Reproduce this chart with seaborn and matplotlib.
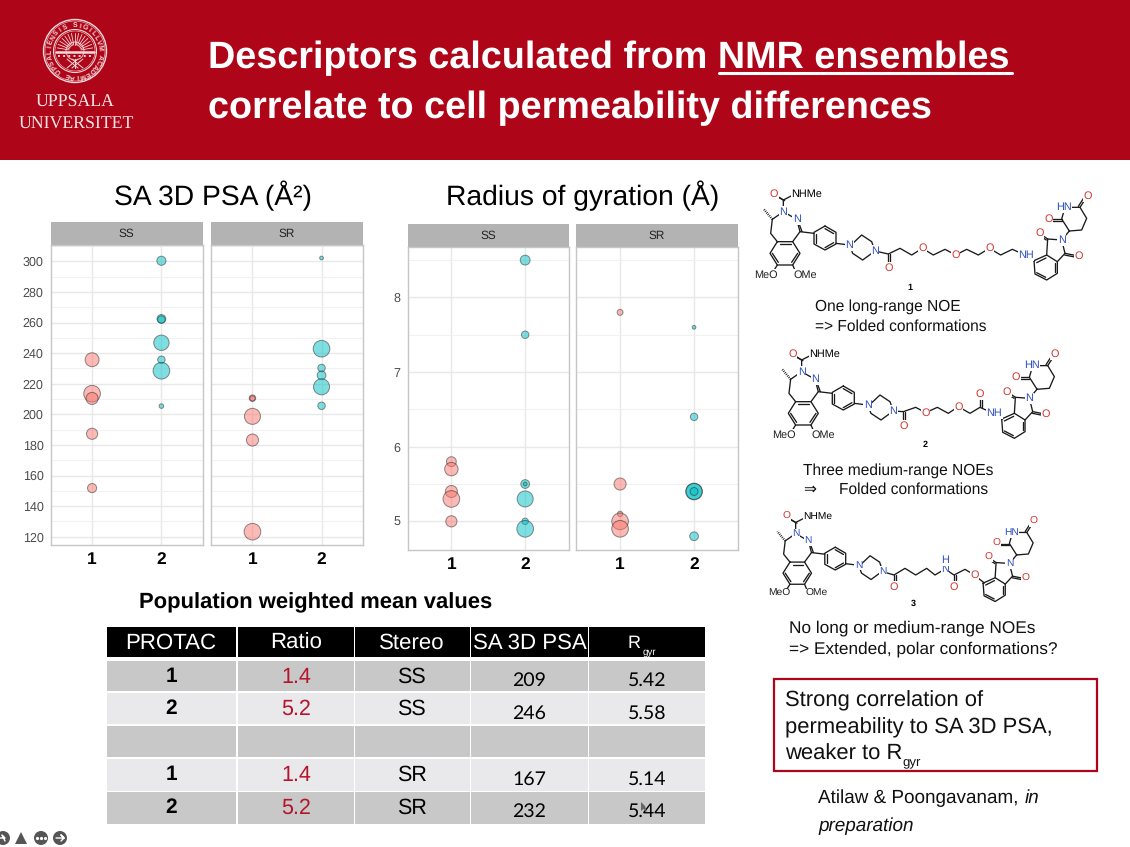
import numpy as np
import pandas as pd
import matplotlib
matplotlib.use('Agg')
import matplotlib.pyplot as plt
from matplotlib.patches import Rectangle, Circle, Polygon
from matplotlib.ticker import MultipleLocator
import seaborn as sns

# Bubble data: protac, stereo, value, population (%)
psa_protac = [1, 1, 1, 1, 1, 2, 2, 2, 2, 2, 2, 2,
              1, 1, 1, 1, 1, 2, 2, 2, 2, 2, 2]
psa_stereo = ['SS'] * 12 + ['SR'] * 11
psa_value = [235.7, 213.5, 210.4, 187.3, 151.8, 300.4, 262.4, 262.0, 246.8, 235.7, 228.5, 205.4,
             210.6, 210.4, 198.7, 183.2, 123.3, 302.2, 242.9, 230.3, 225.5, 218.0, 205.6]
psa_pop = [28, 40, 21, 18, 12, 12, 11, 8, 34, 8, 40, 3,
           6, 4, 37, 21, 40, 2, 47, 8, 11, 37, 8]

rg_protac = [1, 1, 1, 1, 1, 2, 2, 2, 2, 2, 2, 2,
             1, 1, 1, 1, 1, 2, 2, 2, 2, 2, 2]
rg_stereo = ['SS'] * 12 + ['SR'] * 11
rg_value = [5.8, 5.7, 5.4, 5.3, 5.0, 8.5, 7.5, 5.5, 5.5, 5.3, 5.0, 4.9,
            7.8, 5.5, 5.1, 5.0, 4.9, 7.6, 6.4, 5.4, 5.4, 5.4, 4.8]
rg_pop = [14, 26, 21, 40, 18, 14, 8, 11, 2, 37, 6, 43,
          5, 21, 4, 40, 40, 2, 8, 47, 37, 9, 11]

# Table
table_head = ['PROTAC', 'Ratio', 'Stereo', 'SA 3D PSA', 'R']
t_protac = ['1', '2', '', '1', '2']
t_ratio = ['1.4', '5.2', '', '1.4', '5.2']
t_stereo = ['SS', 'SS', '', 'SR', 'SR']
t_psa = ['209', '246', '', '167', '232']
t_rgyr = ['5.42', '5.58', '', '5.14', '5.44']

RED = '#ae0618'
W, H = 1130, 847

sns.set_theme(style='white')
plt.rcParams['font.family'] = ['Liberation Sans', 'DejaVu Sans']
plt.rcParams['text.hinting'] = 'no_hinting'

fig = plt.figure(figsize=(W / 100, H / 100), dpi=100, facecolor='white')
bg = fig.add_axes([0, 0, 1, 1])
bg.set_xlim(0, W)
bg.set_ylim(H, 0)
bg.axis('off')


def panel(x0, x1, y0, y1):
    return fig.add_axes([x0 / W, 1 - y1 / H, (x1 - x0) / W, (y1 - y0) / H])


# ---- header band
bg.add_patch(Rectangle((0, 0), W, 160, color=RED, lw=0))
bg.text(208, 68, 'Descriptors calculated from NMR ensembles', color='white', weight='bold', size=27.2, va='baseline')
bg.text(208, 118, 'correlate to cell permeability differences', color='white', weight='bold', size=27.2, va='baseline')
bg.plot([719, 1012], [73, 73], color='white', lw=2.2)

# logo
cx, cy = 75, 51
SEAL = '#f4d8da'
for r, lw in [(31.5, 1.0), (30, 0.4), (21.5, 0.8), (20, 0.4), (9, 0.6)]:
    bg.add_patch(Circle((cx, cy), r, fc='none', ec=SEAL, lw=lw))
ring = 'SIGILLVM ACADEMIAE UPSALIENSIS '
for i, ch in enumerate(ring):
    a = 2 * np.pi * i / len(ring)
    bg.text(cx + 25.5 * np.sin(a), cy - 25.5 * np.cos(a), ch, color=SEAL, size=5, weight='bold', ha='center',
            va='center', rotation=-np.degrees(a), rotation_mode='anchor')
bg.plot([cx - 19, cx + 19], [cy + 1, cy + 1], color=SEAL, lw=1.8)
bg.plot([cx - 17, cx + 17], [cy + 5, cy + 5], color=SEAL, lw=1.4, ls=':')
for a in np.linspace(-80, 80, 15):
    t = np.radians(a)
    bg.plot([cx + 6 * np.sin(t), cx + 18 * np.sin(t)], [cy - 6 * np.cos(t), cy - 18 * np.cos(t)], color=SEAL, lw=0.6)
for a in [-1, 0, 1]:
    bg.plot([cx + a * 3, cx - a * 8], [cy + 8, cy + 17], color=SEAL, lw=0.7)
    bg.plot([cx + a * 8, cx - a * 3], [cy + 8, cy + 17], color=SEAL, lw=0.7)
bg.text(75, 107, 'UPPSALA', color='#f7e6e6', family='Liberation Serif', size=12.8, ha='center', va='baseline')
bg.text(76, 129, 'UNIVERSITET', color='#f7e6e6', family='Liberation Serif', size=12.8, ha='center', va='baseline')

# ---- bubble panels
psa_df = pd.DataFrame({'protac': psa_protac, 'stereo': psa_stereo, 'value': psa_value, 'pop': psa_pop})
rg_df = pd.DataFrame({'protac': rg_protac, 'stereo': rg_stereo, 'value': rg_value, 'pop': rg_pop})
colors = {1: '#F8766D', 2: '#00BFC4'}


def facet(df, stereo, box, strip, ylim, xlim, major, minor, show_y):
    x0, x1, y0, y1 = box
    ax = panel(x0, x1, y0, y1)
    sns.scatterplot(data=df[df['stereo'] == stereo], x='protac', y='value', hue='protac', palette=colors,
                    size='pop', sizes=(0, 144), size_norm=(0, 40), alpha=0.5, edgecolor='#222222', linewidth=0.7,
                    legend=False, ax=ax, clip_on=False, zorder=3)
    ax.set_xlim(*xlim)
    ax.set_ylim(*ylim)
    ax.set_xticks([1, 2])
    ax.set_xticklabels(['1', '2'], fontsize=12.5, fontweight='bold', color='black')
    ax.yaxis.set_major_locator(MultipleLocator(major))
    ax.yaxis.set_minor_locator(MultipleLocator(minor))
    ax.grid(True, which='major', color='#e8e8e8', lw=1.0)
    ax.grid(True, which='minor', axis='y', color='#f1f1f1', lw=0.8)
    ax.set_axisbelow(True)
    ax.set_xlabel('')
    ax.set_ylabel('')
    ax.tick_params(axis='x', length=0, pad=5)
    ax.tick_params(axis='y', which='both', length=0, labelsize=9, labelcolor='#4d4d4d', pad=5, labelleft=show_y)
    for s in ax.spines.values():
        s.set_color('#c6c6c6')
        s.set_linewidth(1.0)
    bg.add_patch(Rectangle((x0, strip), x1 - x0, y0 - strip, color='#b3b3b3', lw=0))
    bg.text((x0 + x1) / 2, (strip + y0) / 2 + 0.5, stereo, size=8.5, color='#222222', ha='center', va='center')
    return ax


facet(psa_df, 'SS', (50.5, 203, 245, 545), 222, (114.6, 310.7), (0.4, 2.6), 20, 10, True)
facet(psa_df, 'SR', (211, 363, 245, 545), 222, (114.6, 310.7), (0.4, 2.6), 20, 10, False)
facet(rg_df, 'SS', (407.7, 568.7, 246.7, 550), 224.3, (4.616, 8.68), (0.408, 2.59), 1, 0.5, True)
facet(rg_df, 'SR', (576.3, 737.7, 246.7, 550), 224.3, (4.616, 8.68), (0.408, 2.59), 1, 0.5, False)

bg.text(213, 205, 'SA 3D PSA (Å²)', size=20.3, color='black', ha='center', va='baseline')
bg.text(583, 205, 'Radius of gyration (Å)', size=20.3, color='black', ha='center', va='baseline')

# ---- table
bg.text(139, 608, 'Population weighted mean values', weight='bold', size=15.8, color='black', va='baseline')
col_edges = [(107, 236.3), (237.5, 353.7), (354.9, 470.2), (471.4, 587.6), (588.8, 705)]
col_mid = [171, 296, 411.5, 529.5, 634]
row_edges = [(661.3, 691), (692.7, 724.3), (726, 757), (758.7, 790.7), (792.3, 823.7)]
row_mid = [677, 709, 741, 775, 808]
num_mid = [680, 713, 745, 779, 811]
for (a, b), mid, head in zip(col_edges, col_mid, table_head):
    bg.add_patch(Rectangle((a, 627), b - a, 30, color='black', lw=0))
    bg.text(mid, 643, head, color='white', size=16 if head != 'R' else 13, ha='center', va='center')
bg.text(649, 652, 'gyr', color='white', size=7, ha='center', va='center')
for i, (a, b) in enumerate(row_edges):
    for c0, c1 in col_edges:
        bg.add_patch(Rectangle((c0, a), c1 - c0, b - a, color='#c8c8c9' if i % 2 == 0 else '#e9e8ea', lw=0))
    bg.text(col_mid[0], row_mid[i], t_protac[i], weight='bold', size=15, color='black', ha='center', va='center')
    bg.text(col_mid[1], row_mid[i], t_ratio[i], size=15.5, color='#b5152b', ha='center', va='center')
    bg.text(col_mid[2], row_mid[i], t_stereo[i], size=15.5, color='black', ha='center', va='center')
    bg.text(col_mid[3], num_mid[i], t_psa[i], size=14, family='Lato', color='black', ha='center', va='center')
    bg.text(647, num_mid[i], t_rgyr[i], size=14, family='Lato', color='black', ha='center', va='center')
# mouse pointer left on the slide
bg.add_patch(Polygon([(641, 802), (641, 811), (643.5, 809), (647, 812), (645, 806)], color='#666666', lw=0, zorder=5))

# ---- molecules (coordinates in 3x zoom units of the slide)
O_RED, N_BLUE = '#cf3a32', '#3050c0'
head_lines = [
    [(128, 215), (150, 185), (140, 148), (100, 125), (67, 148), (62, 190), (82, 215)],
    [(82, 215), (128, 215), (150, 250), (128, 285), (82, 285), (60, 250), (82, 215)],
    [(100, 125), (100, 90), (135, 72)], [(100, 90), (72, 72)], [(104, 92), (76, 77)], [(156, 185), (144, 152)],
    [(82, 285), (65, 312)], [(128, 285), (140, 312)], [(143, 250), (125, 277)], [(67, 250), (85, 277)],
    [(90, 223), (122, 223)],
    [(150, 185), (192, 190)],
    [(225, 168), (258, 187), (258, 222), (225, 240), (192, 222), (192, 187), (225, 168)],
    [(225, 176), (251, 191)], [(251, 218), (225, 233)], [(198, 218), (198, 191)],
    [(258, 220), (298, 225)],
    [(300, 228), (335, 195), (365, 215), (375, 243), (338, 270), (308, 250), (300, 228)],
]
head_labels = [('O', 72, 72, O_RED), ('NHMe', 170, 72, 'black'), ('N', 100, 125, N_BLUE), ('N', 140, 148, N_BLUE),
               ('N', 298, 225, N_BLUE), ('N', 375, 243, N_BLUE), ('MeO', 48, 315, '#222222'), ('OMe', 165, 315, '#222222')]
tail_lines = [
    [(852, 272), (890, 255), (922, 275), (922, 310), (890, 330), (855, 312), (852, 272)],
    [(860, 278), (888, 264)], [(915, 280), (915, 305)], [(887, 322), (860, 308)],
    [(890, 255), (893, 207), (935, 210), (945, 250), (922, 275)],
    [(893, 207), (868, 190)], [(889, 210), (864, 194)], [(945, 250), (985, 258)], [(944, 255), (984, 263)],
    [(935, 210), (958, 183)],
    [(958, 183), (995, 180), (1010, 145), (990, 112), (945, 112), (935, 147), (958, 183)],
    [(990, 112), (1012, 78)], [(985, 109), (1007, 75)], [(935, 147), (895, 147)], [(935, 152), (895, 152)],
]
tail_labels = [('O', 868, 190, O_RED), ('N', 935, 210, N_BLUE), ('O', 985, 258, O_RED), ('HN', 942, 112, N_BLUE),
               ('O', 1012, 78, O_RED), ('O', 895, 147, O_RED)]
chain1 = [(375, 243), (415, 252), (450, 235), (485, 255), (517, 235), (550, 255), (585, 238), (617, 255),
          (650, 238), (685, 255), (718, 235), (752, 255), (787, 238), (825, 255), (852, 272)]
chain1_lab = [('O', 415, 293, O_RED), ('O', 517, 235, O_RED), ('O', 617, 255, O_RED), ('O', 718, 235, O_RED),
              ('NH', 828, 255, N_BLUE)]
chain1_co = [(415, 252, 415, 293)]
chain2 = [(430, 723), (460, 725), (497, 712), (527, 728), (562, 712), (595, 730), (625, 710), (660, 730),
          (690, 712), (730, 730), (758, 747)]
chain2_lab = [('O', 460, 767, O_RED), ('O', 527, 728, O_RED), ('O', 625, 710, O_RED), ('O', 690, 672, O_RED),
              ('NH', 733, 730, N_BLUE)]
chain2_co = [(460, 725, 460, 767), (690, 712, 690, 672)]
chain3 = [(398, 275), (432, 285), (465, 265), (497, 285), (530, 265), (555, 285), (585, 267), (612, 285),
          (645, 268), (673, 285), (703, 309)]
chain3_lab = [('O', 432, 320, O_RED), ('N', 585, 267, N_BLUE), ('H', 585, 240, N_BLUE), ('O', 612, 320, O_RED),
              ('O', 673, 285, O_RED)]
chain3_co = [(432, 285, 432, 320), (612, 285, 612, 320)]


def px(x, y, k=1.0, dx=0.0, dy=0.0, oy=170):
    return 750 + k * x / 3 + dx, oy + k * y / 3 + dy


def draw_part(lines, labels, k=1.0, dx=0.0, dy=0.0, oy=170):
    for pts in lines:
        xy = [px(a, b, k, dx, dy, oy) for a, b in pts]
        bg.plot([p[0] for p in xy], [p[1] for p in xy], color='#1a1a1a', lw=0.95, solid_capstyle='round', zorder=2)
    for txt, a, b, c in labels:
        x, y = px(a, b, k, dx, dy, oy)
        bg.text(x, y, txt, color=c, size=7.8 * k, ha='center', va='center', zorder=3,
                bbox=dict(fc='white', ec='none', pad=0.3))


def molecule(hk, hdx, hdy, tdx, tdy, chain, lab, co, oy):
    draw_part(head_lines, head_labels, hk, hdx, hdy)
    draw_part(tail_lines, tail_labels, hk, tdx, tdy)
    dbl = []
    for x0, y0, x1, y1 in co:
        dbl += [[(x0, y0), (x1, y1)], [(x0 + 5, y0), (x1 + 5, y1)]]
    draw_part([chain] + dbl, lab, 1.0, 0, 0, oy)
    # stereo methyl, hashed
    a, b = px(67, 148, hk, hdx, hdy)
    c, d = px(42, 118, hk, hdx, hdy)
    bg.plot([a, c], [b, d], color='#1a1a1a', lw=1.6, ls=(0, (0.4, 0.5)), zorder=2)


molecule(1.0, 0, 0, 0, 0, chain1, chain1_lab, chain1_co, 170)
molecule(1.0, 18.3, 160, -32.3, 158.3, chain2, chain2_lab, chain2_co, 170)
molecule(0.95, 14, 324, -36.7, 327, chain3, chain3_lab, chain3_co, 480)
for lab, x, y in [('1', 910, 288), ('2', 925, 445), ('3', 913, 604)]:
    bg.text(x, y, lab, weight='bold', size=6.5, color='black', ha='center', va='center')

# ---- right hand notes
notes = [('One long-range NOE', 815, 311, 11.2), ('=> Folded conformations', 815, 331, 11.2),
         ('Three medium-range NOEs', 803, 475, 11.2), ('Folded conformations', 839, 494, 11.2),
         ('No long or medium-range NOEs', 789, 632, 12.4), ('=> Extended, polar conformations?', 789, 653, 12.4)]
for txt, x, y, fs in notes:
    bg.text(x, y, txt, size=fs, color='#111111', va='baseline')
bg.text(803, 494, '⇒', size=11.2, color='#111111', va='baseline')

bg.add_patch(Rectangle((773.5, 679), 323, 92, fc='white', ec=RED, lw=1.6))
for txt, y in [('Strong correlation of', 706), ('permeability to SA 3D PSA,', 733), ('weaker to R', 759.5)]:
    bg.text(785, y, txt, size=15.8, color='#111111', va='baseline')
bg.text(902.5, 765, 'gyr', size=9.5, color='#111111', va='baseline')
bg.text(818, 803, 'Atilaw & Poongavanam,', size=13.6, color='#111111', va='baseline')
bg.text(1025, 803, 'in', size=13.6, style='italic', color='#111111', va='baseline')
bg.text(818, 831, 'preparation', size=13.6, style='italic', color='#111111', va='baseline')

# ---- slideshow controls bottom left
for x in [3, 41, 60]:
    bg.add_patch(Circle((x, 838), 7, color='#555555', lw=0))
bg.add_patch(Polygon([(15, 844), (27, 844), (21, 832)], color='#555555', lw=0))
bg.plot([-1, 5, 2, 5], [838, 838, 835, 841], color='white', lw=1)
bg.plot([56, 64, 61, 64, 61], [838, 838, 835, 838, 841], color='white', lw=1)
bg.plot([37, 41, 45], [838, 838, 838], ls='none', marker='o', ms=1.3, color='white')

fig.savefig('out.png', dpi=100)
